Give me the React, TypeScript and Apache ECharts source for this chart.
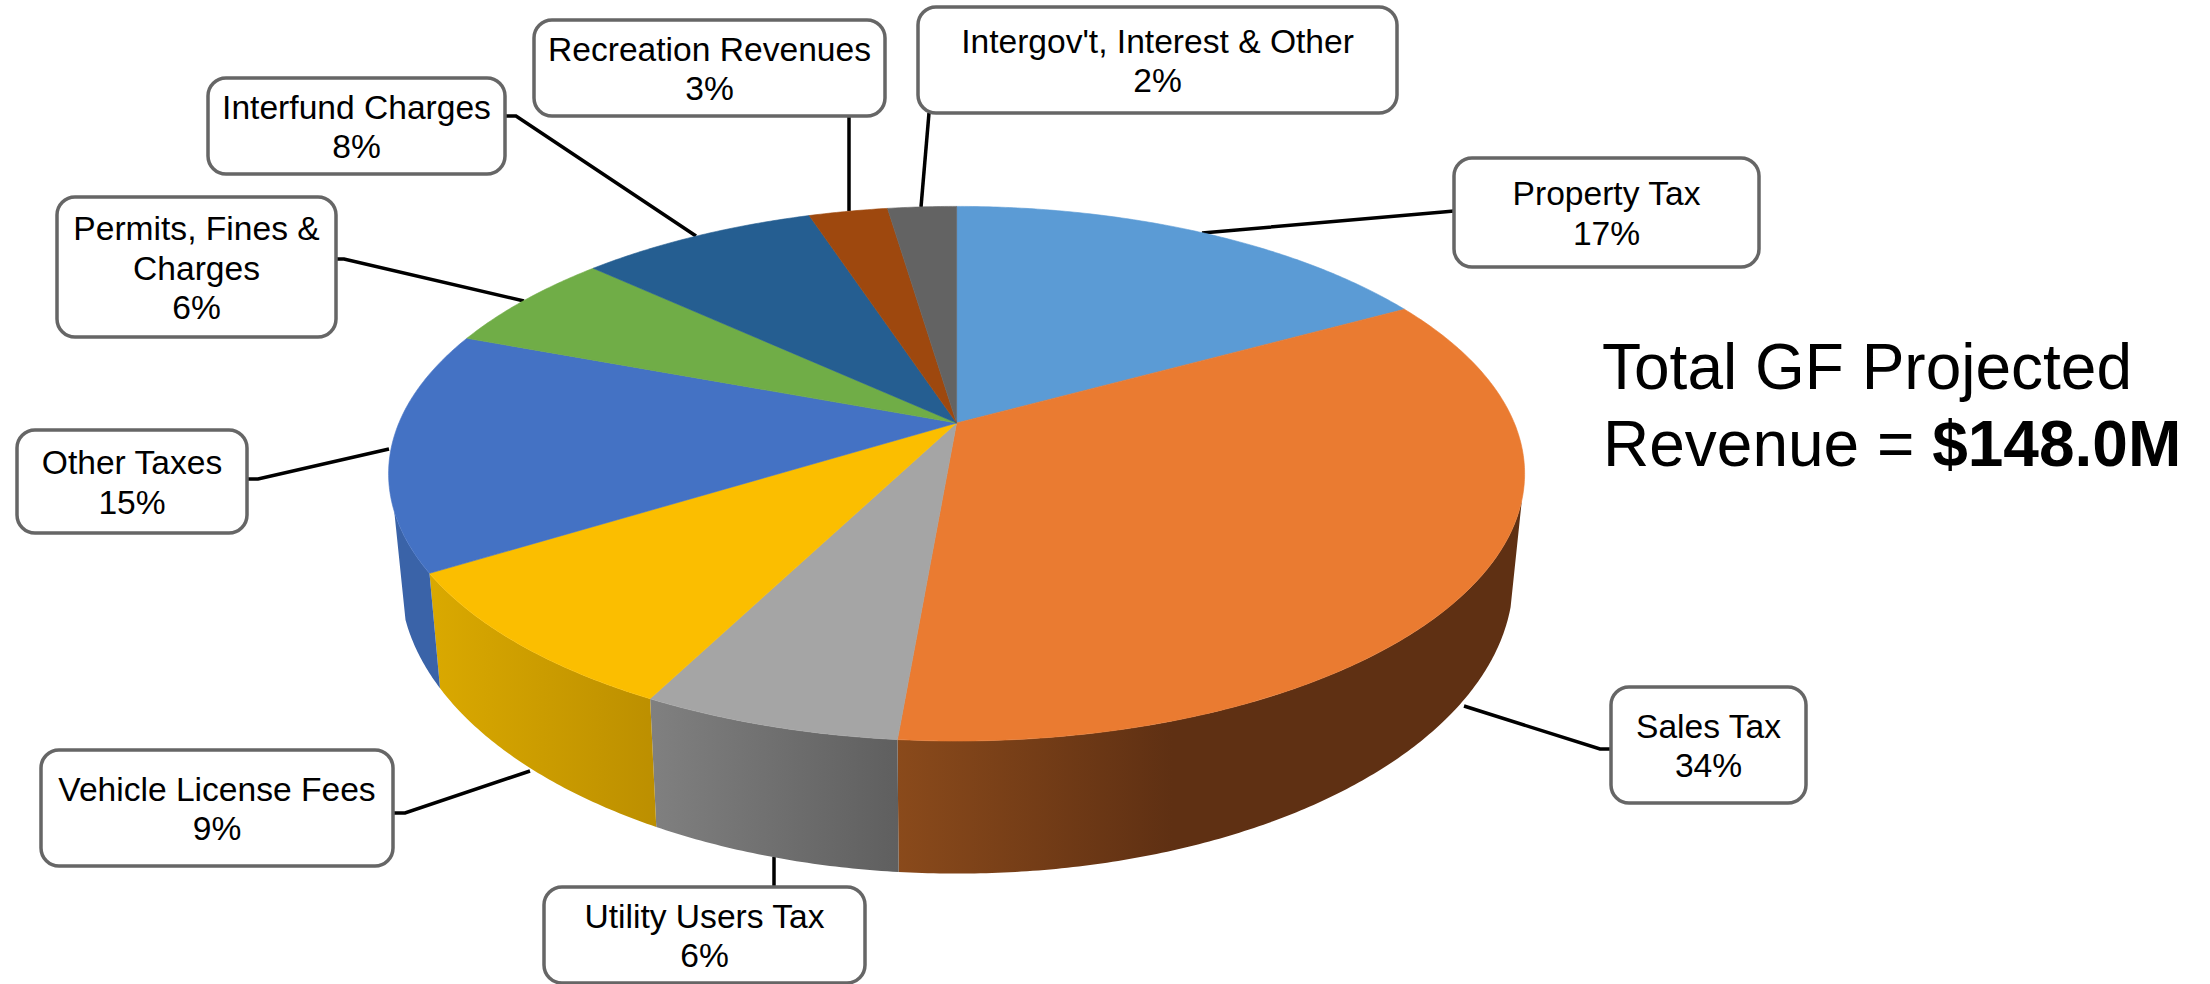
import React, { useEffect, useRef } from "react";
import * as echarts from "echarts";

const categories = [
  "Property Tax",
  "Sales Tax",
  "Utility Users Tax",
  "Vehicle License Fees",
  "Other Taxes",
  "Permits, Fines &\nCharges",
  "Interfund Charges",
  "Recreation Revenues",
  "Intergov't, Interest & Other",
];
const values = [17.0, 34.37, 6.18, 8.65, 14.5, 6.15, 8.1, 2.7, 2.35];
const percentLabels = ["17%", "34%", "6%", "9%", "15%", "6%", "8%", "3%", "2%"];

const topColors = ["#5B9BD5", "#EA7B31", "#A5A5A5", "#FBBE00", "#4472C4", "#70AD47", "#255E91", "#9E480E", "#636363"];
const sideStops: [number, string][][] = [
  [[0, "#375D80"], [1, "#375D80"]],
  [[0, "#8A4A1B"], [0.44, "#5F3013"], [1, "#5F3013"]],
  [[0, "#808080"], [1, "#5F5F5F"]],
  [[0, "#DAA900"], [1, "#BC8F00"]],
  [[0, "#3A63A8"], [1, "#3A63A8"]],
  [[0, "#436829"], [1, "#436829"]],
  [[0, "#163957"], [1, "#163957"]],
  [[0, "#5F2B08"], [1, "#5F2B08"]],
  [[0, "#3B3B3B"], [1, "#3B3B3B"]],
];

// perspective model of the pie's top disc
const APEX_X = 956.6;
const APEX_Y = 423;
const PX = 557.7;
const PY = 257.7;
const PERSP = 0.1897;
// lower rim is the top rim scaled about the rim-ellipse centre and dropped
const RIM_CY = 473.5;
const LOW_CY = 578;
const LOW_SX = 0.98;
const LOW_SY = 1.105;
const SIDE_FROM = 106.4;
const SIDE_TO = 251.2;

const rim = (deg: number): number[] => {
  const r = (deg * Math.PI) / 180;
  const X = Math.sin(r);
  const Y = -Math.cos(r);
  const w = 1 - PERSP * Y;
  return [APEX_X + (PX * X) / w, APEX_Y + (PY * Y) / w];
};
const low = (deg: number): number[] => {
  const [x, y] = rim(deg);
  return [APEX_X + LOW_SX * (x - APEX_X), LOW_CY + LOW_SY * (y - RIM_CY)];
};

const total = values.reduce((a, b) => a + b, 0);
const startAngle = (i: number) => (values.slice(0, i).reduce((a, b) => a + b, 0) / total) * 360;

const arc = (fn: (d: number) => number[], a: number, b: number): number[][] => {
  const n = Math.max(2, Math.ceil(Math.abs(b - a) / 0.5));
  const out: number[][] = [];
  for (let k = 0; k <= n; k++) out.push(fn(a + ((b - a) * k) / n));
  return out;
};

const boxes = [
  [1454, 158, 305, 109],
  [1611, 687, 195, 116],
  [544, 887, 321, 96],
  [41, 750, 352, 116],
  [17, 430, 230, 103],
  [57, 197, 279, 140],
  [208, 78, 297, 96],
  [534, 20, 351, 96],
  [918, 7, 479, 106],
];
const leaders = [
  [[1454, 211], [1443, 212], [1202, 233]],
  [[1611, 749], [1600, 749], [1464, 706]],
  [[774, 887], [774, 857]],
  [[393, 813], [405, 813], [530, 771]],
  [[247, 479], [258, 479], [389, 449]],
  [[336, 259], [344, 259], [524, 301]],
  [[505, 116], [516, 116], [696, 236]],
  [[849, 116], [849, 211]],
  [[929, 113], [921, 207]],
];

const FONT = '"Liberation Sans", Arial, sans-serif';

export default function App() {
  const ref = useRef<HTMLDivElement>(null);
  useEffect(() => {
    const chart = echarts.init(ref.current!, undefined, { renderer: "svg" });
    const sideSeries = {
      type: "custom",
      coordinateSystem: "none",
      silent: true,
      z: 2,
      data: values.map((v) => [v]),
      renderItem: (params: any) => {
        const i = params.dataIndex;
        const a = Math.max(startAngle(i), SIDE_FROM);
        const b = Math.min(startAngle(i + 1), SIDE_TO);
        if (b <= a) return { type: "group", children: [] };
        const points = [...arc(rim, a, b), ...arc(low, b, a)];
        const fill = new echarts.graphic.LinearGradient(
          0, 0, 1, 0,
          sideStops[i].map(([offset, color]) => ({ offset, color }))
        );
        return { type: "polygon", shape: { points }, style: { fill, stroke: "none" } };
      },
    };
    const topSeries = {
      type: "custom",
      coordinateSystem: "none",
      silent: true,
      z: 3,
      data: values.map((v) => [v]),
      renderItem: (params: any) => {
        const i = params.dataIndex;
        const points = [[APEX_X, APEX_Y], ...arc(rim, startAngle(i), startAngle(i + 1))];
        return {
          type: "polygon",
          shape: { points },
          style: { fill: topColors[i], stroke: topColors[i], lineWidth: 0.6 },
        };
      },
    };
    const graphics: any[] = [];
    leaders.forEach((pts) => {
      graphics.push({
        type: "polyline",
        z: 1,
        shape: { points: pts },
        style: { fill: "none", stroke: "#000", lineWidth: 3.5 },
      });
    });
    boxes.forEach(([x, y, w, h], i) => {
      graphics.push({
        type: "rect",
        z: 4,
        shape: { x, y, width: w, height: h, r: 18 },
        style: { fill: "#fff", stroke: "#666", lineWidth: 3.5 },
      });
      graphics.push({
        type: "text",
        z: 5,
        x: x + w / 2,
        y: y + h / 2 + 1,
        style: {
          text: `${categories[i]}\n${percentLabels[i]}`,
          fill: "#000",
          font: `33.6px ${FONT}`,
          align: "center",
          verticalAlign: "middle",
          lineHeight: 39.5,
        },
      });
    });
    graphics.push({
      type: "text",
      z: 5,
      x: 1602,
      y: 367,
      style: {
        text: "Total GF Projected",
        fill: "#000",
        font: `64px ${FONT}`,
        align: "left",
        verticalAlign: "middle",
      },
    });
    graphics.push({
      type: "text",
      z: 5,
      x: 1603,
      y: 444,
      style: {
        text: "{a|Revenue = }{b|$148.0M}",
        align: "left",
        verticalAlign: "middle",
        rich: {
          a: { font: `64px ${FONT}`, fill: "#000" },
          b: { font: `bold 64px ${FONT}`, fill: "#000" },
        },
      },
    });
    chart.setOption({
      animation: false,
      backgroundColor: "#fff",
      series: [sideSeries, topSeries],
      graphic: { elements: graphics },
    });
    return () => chart.dispose();
  }, []);
  return <div ref={ref} style={{ position: "fixed", left: 0, top: 0, width: 2210, height: 984 }} />;
}
